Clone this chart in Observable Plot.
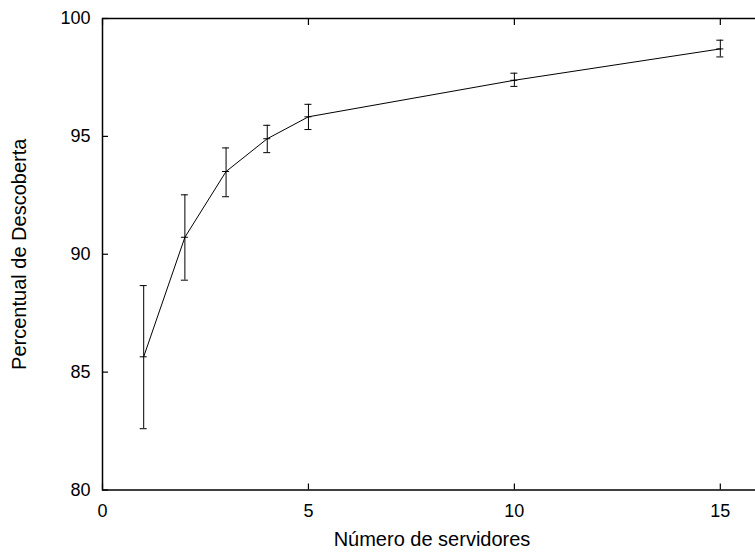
<!DOCTYPE html>
<html>
<head>
<meta charset="utf-8">
<script src="https://cdn.jsdelivr.net/npm/d3@7"></script>
<script src="https://cdn.jsdelivr.net/npm/@observablehq/plot@0.6"></script>
<style>
  html, body { margin: 0; padding: 0; background: white; overflow: hidden; }
</style>
</head>
<body>
<div id="chart"></div>
<script>
const servers = [1, 2, 3, 4, 5, 10, 15];
const mean  = [85.65, 90.72, 93.51, 94.90, 95.83, 97.38, 98.71];
const lower = [82.60, 88.90, 92.44, 94.31, 95.29, 97.12, 98.37];
const upper = [88.67, 92.52, 94.51, 95.47, 96.36, 97.68, 99.08];
const xTicks = [0, 5, 10, 15];
const yTicks = [80, 85, 90, 95, 100];
const xTitle = "Número de servidores";
const yTitle = "Percentual de Descoberta";

const data = servers.map((s, i) => ({x: s, y: mean[i], lo: lower[i], hi: upper[i]}));

const chart = Plot.plot({
  width: 755,
  height: 554,
  marginLeft: 102,
  marginRight: -6,
  marginTop: 18,
  marginBottom: 64.5,
  x: {domain: [0, 16]},
  y: {domain: [80, 100]},
  style: {fontFamily: "'Liberation Sans', Arial, Helvetica, sans-serif", fontSize: "18px", color: "black", background: "white"},
  marks: [
    Plot.frame({stroke: "black", strokeWidth: 1.5}),
    Plot.axisX({anchor: "bottom", ticks: xTicks, tickSize: -6, tickPadding: 20, stroke: "black", strokeWidth: 1.2, label: null, fontSize: 18}),
    Plot.axisX({anchor: "top", ticks: xTicks, tickSize: -6, text: null, stroke: "black", strokeWidth: 1.2, label: null}),
    Plot.axisY({anchor: "left", ticks: yTicks, tickSize: -6, tickPadding: 18, stroke: "black", strokeWidth: 1.2, label: null, fontSize: 18}),
    Plot.axisY({anchor: "right", ticks: yTicks, tickSize: -6, text: null, stroke: "black", strokeWidth: 1.2, label: null}),
    Plot.ruleX(data, {x: "x", y1: "lo", y2: "hi", stroke: "black", strokeWidth: 1}),
    Plot.ruleY(data, {y: "lo", x1: "x", x2: "x", insetLeft: -3.5, insetRight: -3.5, stroke: "black", strokeWidth: 1}),
    Plot.ruleY(data, {y: "hi", x1: "x", x2: "x", insetLeft: -3.5, insetRight: -3.5, stroke: "black", strokeWidth: 1}),
    Plot.ruleY(data, {y: "y", x1: "x", x2: "x", insetLeft: -3.5, insetRight: -3.5, stroke: "black", strokeWidth: 1}),
    Plot.line(data, {x: "x", y: "y", stroke: "black", strokeWidth: 1}),
    Plot.text([xTitle], {frameAnchor: "bottom", text: d => d, textAnchor: "middle", lineAnchor: "middle", dy: 50, fontSize: 20, fill: "black"}),
    Plot.text([yTitle], {frameAnchor: "left", text: d => d, textAnchor: "middle", lineAnchor: "middle", rotate: -90, dx: -83, fontSize: 20, fill: "black"})
  ]
});

document.getElementById("chart").appendChild(chart);
</script>
</body>
</html>
